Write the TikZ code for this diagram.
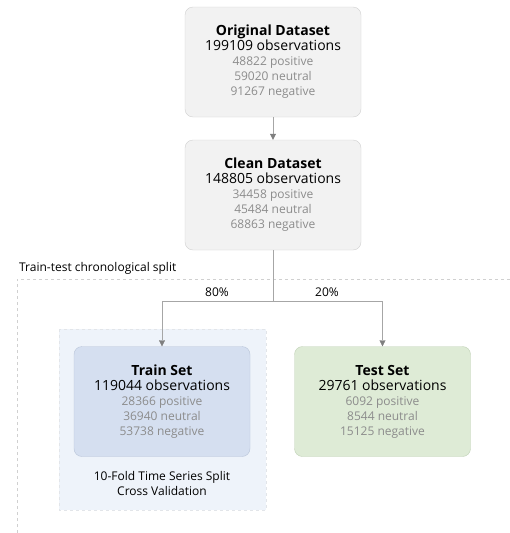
\documentclass[tikz,border=0pt]{standalone}
\usepackage{fontspec}
\setmainfont{Open Sans}
\usetikzlibrary{arrows.meta}
\definecolor{boxgray}{HTML}{F2F2F2}
\definecolor{boxgrayline}{HTML}{D0D0D0}
\definecolor{trainfill}{HTML}{D5DFF0}
\definecolor{trainline}{HTML}{B9C5D9}
\definecolor{testfill}{HTML}{DEEBD6}
\definecolor{testline}{HTML}{C0D1B6}
\definecolor{cvfill}{HTML}{EEF3FA}
\definecolor{subtext}{HTML}{8C8C8C}
\definecolor{wire}{HTML}{A6A6A6}
\definecolor{tipgray}{HTML}{7F7F7F}
\newcommand{\bigline}[1]{\fontsize{14}{16}\selectfont #1}
\newcommand{\subline}[1]{\textcolor{subtext}{\fontsize{12}{14.5}\selectfont #1}}
\newcommand{\datatext}[5]{\bigline{\bfseries #1}\\\bigline{#2 observations}\\
  \subline{#3 positive}\\\subline{#4 neutral}\\\subline{#5 negative}}
\begin{document}
\begin{tikzpicture}[x=1pt, y=-1pt, font=\fontsize{12}{15}\selectfont,
    databox/.style={draw=boxgrayline, fill=boxgray, rounded corners=8pt,
      minimum width=176pt, minimum height=110pt, align=center, inner sep=0pt},
    wirearrow/.style={draw=wire, -{Triangle[length=6pt, width=6pt, color=tipgray]}}]
    \useasboundingbox (0,0) rectangle (510,533);
    % split region and cross validation region
    \draw[boxgrayline, dashed] (17,533) -- (17,279) -- (510,279);
    \draw[cvfill!60!boxgrayline, fill=cvfill, dashed] (59,329) rectangle (266,510);
    \node[anchor=west, inner sep=0pt] (splitlabel) at (19,268) {Train-test chronological split};
    % data boxes
    \node[databox] (orig) at (273,62) {\datatext{Original Dataset}{199109}{48822}{59020}{91267}};
    \node[databox] (clean) at (273,195) {\datatext{Clean Dataset}{148805}{34458}{45484}{68863}};
    \node[databox, fill=trainfill, draw=trainline] (train) at (162,401.5)
      {\datatext{Train Set}{119044}{28366}{36940}{53738}};
    \node[databox, fill=testfill, draw=testline] (test) at (382.5,401.5)
      {\datatext{Test Set}{29761}{6092}{8544}{15125}};
    \node[align=center, inner sep=0pt] (cvlabel) at (162,483)
      {10-Fold Time Series Split\\Cross Validation};
    % connectors
    \coordinate (split) at (273,301);
    \draw[wirearrow] (orig) -- (clean);
    \draw[wire] (clean) -- (split);
    \draw[wirearrow] (split) -| (train.north);
    \draw[wirearrow] (split) -| (test.north);
    \node[inner sep=0pt] (pctTrain) at (217,292) {80\%};
    \node[inner sep=0pt] (pctTest) at (327,292) {20\%};
\end{tikzpicture}
\end{document}
